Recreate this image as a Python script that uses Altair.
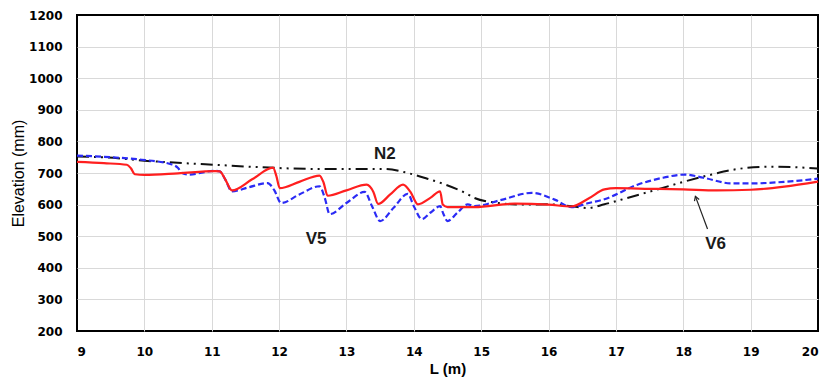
import altair as alt
import pandas as pd

# ---- data ----
v6_L = [9.0, 9.4, 9.74, 9.8, 9.86, 10.0, 10.5, 11.05, 11.12, 11.2, 11.3, 11.6, 11.91, 11.96, 12.01,
        12.3, 12.6, 12.66, 12.72, 13.0, 13.3, 13.4, 13.47, 13.65, 13.84, 13.95, 14.06, 14.25, 14.39,
        14.43, 14.5, 14.9, 15.5, 16.0, 16.34, 16.6, 16.83, 17.0, 17.5, 18.0, 18.5, 19.0, 19.5, 20.0]
v6_E = [735, 731, 726, 715, 696, 694, 699, 706, 705, 680, 645, 680, 717, 690, 652,
        672, 692, 670, 628, 645, 663, 640, 602, 632, 663, 640, 601, 622, 642,
        600, 592, 592, 603, 600, 594, 620, 648, 652, 650, 648, 645, 647, 657, 673]

v5_L = [9.0, 9.5, 9.96, 10.41, 10.5, 10.56, 10.65, 11.05, 11.12, 11.2, 11.3, 11.55, 11.83, 11.93,
        12.03, 12.3, 12.6, 12.68, 12.75, 13.0, 13.27, 13.38, 13.5, 13.7, 13.91, 14.0, 14.12, 14.25,
        14.39, 14.44, 14.5, 14.65, 14.8, 14.9, 15.3, 15.75, 16.1, 16.34, 16.6, 16.83, 17.32, 17.7,
        18.02, 18.3, 18.72, 19.0, 19.5, 20.0]
v5_E = [755, 750, 742, 727, 716, 700, 695, 707, 705, 680, 642, 655, 668, 645,
        605, 632, 658, 620, 570, 605, 640, 595, 548, 590, 634, 595, 554, 575,
        595, 570, 548, 575, 601, 595, 615, 637, 615, 592, 605, 617, 663, 685,
        695, 685, 667, 667, 672, 682]

n2_L = [9.0, 9.46, 10.0, 10.6, 11.05, 11.75, 12.5, 13.0, 13.57, 13.91, 14.2, 14.46, 14.8, 14.9,
        15.25, 15.6, 16.0, 16.34, 16.58, 16.83, 17.17, 17.68, 18.0, 18.42, 18.76, 19.28, 19.6, 20.0]
n2_E = [752, 749, 739, 731, 726, 718, 713, 713, 713, 700, 682, 664, 633, 621,
        605, 600, 601, 595, 589, 601, 621, 652, 672, 695, 711, 720, 719, 714]

x_ticks = [9, 10, 11, 12, 13, 14, 15, 16, 17, 18, 19, 20]
y_ticks = [200, 300, 400, 500, 600, 700, 800, 900, 1000, 1100, 1200]

label_text = ["N2", "V5", "V6"]
label_L = [13.57, 12.55, 18.48]
label_E = [761, 492, 476]

arrow_L = [18.36, 18.18]   # tail, tip
arrow_E = [523, 626]

# ---- build tables ----
def frame(L, E):
    return pd.DataFrame({"L": L, "E": E})

v6 = frame(v6_L, v6_E)
v5 = frame(v5_L, v5_E)
n2 = frame(n2_L, n2_E)
labels = pd.DataFrame({"L": label_L, "E": label_E, "t": label_text})
arrow = pd.DataFrame({"L": [arrow_L[0]], "E": [arrow_E[0]], "L2": [arrow_L[1]], "E2": [arrow_E[1]]})
tip = pd.DataFrame({"L": [arrow_L[1]], "E": [arrow_E[1]]})

x_scale = alt.Scale(domain=[9, 20], nice=False, zero=False)
y_scale = alt.Scale(domain=[200, 1200], nice=False, zero=False)

edge_x = "datum.value == 9 || datum.value == 20"
edge_y = "datum.value == 200 || datum.value == 1200"

X = alt.X("L:Q", scale=x_scale,
          axis=alt.Axis(values=x_ticks, title="L (m)", grid=True, ticks=False, domain=False,
                        format="d", labelPadding=15, titlePadding=4,
                        gridOpacity={"condition": {"test": edge_x, "value": 0}, "value": 1},
                        titleFont="Liberation Sans", titleFontSize=15, titleFontWeight="bold"))
Y = alt.Y("E:Q", scale=y_scale,
          axis=alt.Axis(values=y_ticks, title="Elevation (mm)", grid=True, ticks=False, domain=False,
                        format="d", labelPadding=15, titlePadding=2,
                        gridOpacity={"condition": {"test": edge_y, "value": 0}, "value": 1},
                        titleFont="Liberation Sans", titleFontSize=16, titleFontWeight="normal"))

black = alt.Chart(n2).mark_line(color="#111111", strokeWidth=2, strokeDash=[12, 5, 2, 5, 2, 5],
                                interpolate="monotone").encode(x=X, y=Y)
blue = alt.Chart(v5).mark_line(color="#2b2bf5", strokeWidth=2.2, strokeDash=[6, 3],
                               interpolate="monotone").encode(x=X, y=Y)
red = alt.Chart(v6).mark_line(color="#ff1f1f", strokeWidth=2.2,
                              interpolate="monotone").encode(x=X, y=Y)

txt = alt.Chart(labels).mark_text(font="Liberation Sans", fontSize=17, fontWeight="bold",
                                  color="#1a1a1a").encode(x=X, y=Y, text="t:N")

rule = alt.Chart(arrow).mark_rule(color="#222222", strokeWidth=1.2).encode(
    x=X, y=Y, x2="L2:Q", y2="E2:Q")
head = alt.Chart(tip).mark_point(shape="M -0.6 1 L 0 0 L 0.6 1", filled=False, color="#222222",
                                 strokeWidth=1.2, size=70, angle=340, opacity=1).encode(x=X, y=Y)

chart = alt.layer(black, blue, red, rule, head, txt).properties(
    width=741, height=316,
    autosize=alt.AutoSizeParams(type="none"),
    padding={"left": 69, "top": 7, "right": 2, "bottom": 50},
).configure_view(
    stroke="black", strokeWidth=2
).configure_axis(
    labelFont="DejaVu Sans", labelFontSize=12, labelFontWeight="bold", labelColor="black",
    titleColor="black", gridColor="#d9d9d9", gridWidth=1
)

chart.save("out.html", embed_options={"renderer": "svg", "actions": False})
